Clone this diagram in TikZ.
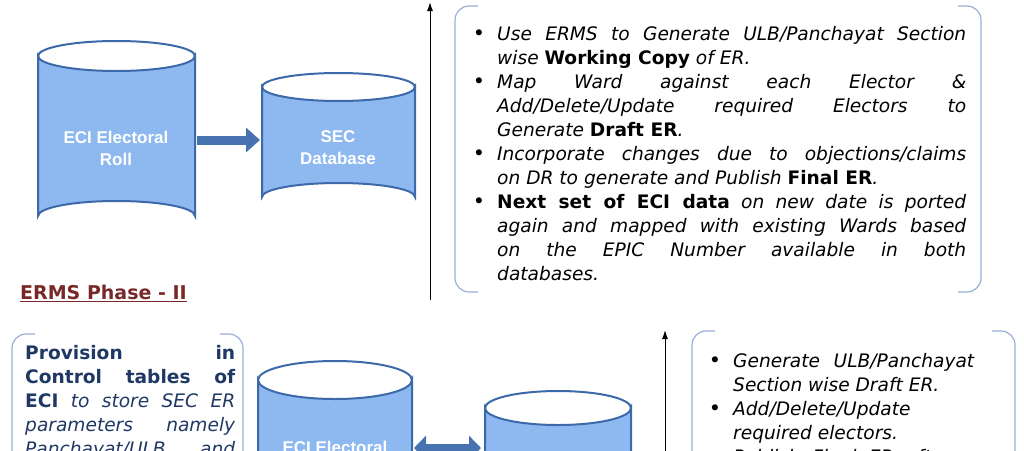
\documentclass[tikz,border=0pt]{standalone}
\usepackage{fontspec}
\setmainfont{DejaVu Sans}
\newfontfamily\cylfont{Liberation Sans}
\usetikzlibrary{arrows.meta}
\definecolor{cylfill}{RGB}{141,185,240}
\definecolor{cylline}{RGB}{60,105,170}
\definecolor{arrblue}{RGB}{70,115,175}
\definecolor{boxline}{RGB}{150,175,215}
\definecolor{phasered}{RGB}{120,40,40}
\definecolor{provblue}{RGB}{31,56,100}
\newenvironment{bulletlist}{\begin{list}{\huge\textbullet}{\setlength\leftmargin{27pt}\setlength\labelsep{12pt}\setlength\itemsep{0pt}\setlength\parsep{0pt}\setlength\topsep{0pt}\setlength\partopsep{0pt}}}{\end{list}}
\tikzset{
  cyltext/.style={text=white,font=\cylfont\bfseries\fontsize{17}{22}\selectfont,align=center},
  bodytext/.style={anchor=north west,inner sep=0pt,align=justify,font=\fontsize{18.6}{24}\selectfont},
  bracket/.style={boxline,line width=1.2pt,rounded corners=14pt},
}
\newcommand{\dbcyl}[5]{% x, ytop, width, height, ry
  \draw[cylline,fill=cylfill,line width=2pt]
    (#1,#2) -- (#1,#2+#4) arc[start angle=180,end angle=360,x radius=#3/2,y radius=#5]
    -- (#1+#3,#2) arc[start angle=0,end angle=180,x radius=#3/2,y radius=#5] -- cycle;
  \draw[cylline,line width=2pt] (#1,#2) arc[start angle=180,end angle=360,x radius=#3/2,y radius=#5];
}
\begin{document}
\begin{tikzpicture}[x=1pt,y=-1pt]
\useasboundingbox (0,0) rectangle (1024,450);
\clip (0,0) rectangle (1024,450);
\hyphenpenalty=10000
% Phase I
\dbcyl{38}{56}{157}{160}{15}
\node[cyltext] (eci) at (116,148) {ECI Electoral\\Roll};
\dbcyl{262}{87}{153}{110}{14}
\node[cyltext] (sec) at (338,148) {SEC\\Database};
\draw[arrblue,line width=9pt,-{Triangle[length=14pt,width=24pt]}] (197,140) -- (260,140);
\coordinate (upA) at (430,2);
\coordinate (lowA) at (430,300);
\draw[line width=1pt,-{Latex[length=9pt,width=6pt]}] (lowA) -- (upA);
\draw[bracket] (478,6) -| (455,292) -- (478,292);
\draw[bracket] (958,6) -| (981,292) -- (958,292);
\node[bodytext,text width=496pt] (list1) at (470,16) {\itshape
\begin{bulletlist}
\item Use ERMS to Generate ULB/Panchayat Section\linebreak wise {\upshape\bfseries Working Copy} of ER.
\item Map Ward against each Elector \&\linebreak Add/Delete/Update required Electors to\linebreak Generate {\upshape\bfseries Draft ER}.
\item Incorporate changes due to objections/claims\linebreak on DR to generate and Publish {\upshape\bfseries Final ER}.
\item {\upshape\bfseries Next set of ECI data} on new date is ported\linebreak again and mapped with existing Wards based\linebreak on the EPIC Number available in both\linebreak databases.
\end{bulletlist}};
\node[anchor=west,inner sep=0pt,text=phasered,font=\bfseries\fontsize{19}{22}\selectfont] (phase) at (20,293) {\underline{ERMS Phase - II}};
% Phase II
\draw[bracket] (35,334) -| (12,470);
\draw[bracket] (220,334) -| (243,470);
\node[bodytext,text width=210pt,text=provblue] (prov) at (25,345) {%
\textbf{Provision in\linebreak Control tables of\linebreak ECI} \textit{to store SEC ER\linebreak parameters namely\linebreak Panchayat/ULB and\linebreak Section}};
\dbcyl{258}{380}{154}{160}{19}
\node[cyltext] (eci2) at (335,458) {ECI Electoral\\Roll};
\dbcyl{485}{408}{146}{140}{17}
\node[cyltext] (sec2) at (558,470) {SEC\\Database};
\draw[arrblue,line width=9pt,{Triangle[length=12pt,width=24pt]}-{Triangle[length=12pt,width=24pt]}] (414,448) -- (481,448);
\coordinate (upB) at (665,330);
\coordinate (lowB) at (665,460);
\draw[line width=1pt,-{Latex[length=9pt,width=6pt]}] (lowB) -- (upB);
\draw[bracket] (715,331) -| (692,470);
\draw[bracket] (992,331) -| (1015,470);
\node[bodytext,text width=268pt] (list2) at (706,343) {\itshape
\begin{bulletlist}
\item Generate ULB/Panchayat\linebreak Section wise Draft ER.
\item Add/Delete/Update \newline required electors.
\item Publish Final ER after a\linebreak claims period.
\end{bulletlist}};
\end{tikzpicture}
\end{document}
